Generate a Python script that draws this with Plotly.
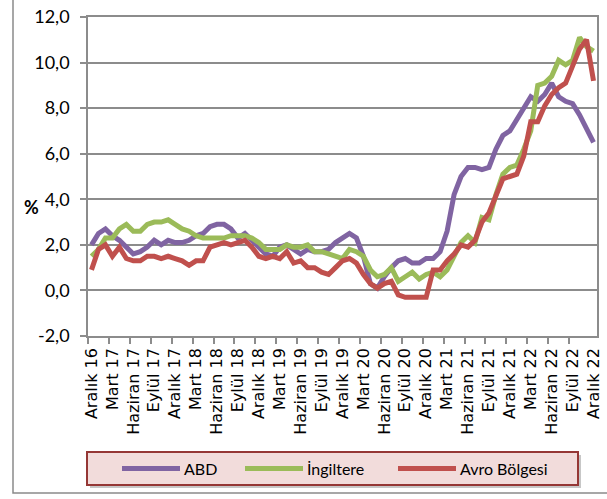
import plotly.graph_objects as go

# Monthly index Dec 2016 .. Dec 2022 (73 points)
tick_labels = ["Aralık 16", "Mart 17", "Haziran 17", "Eylül 17", "Aralık 17",
               "Mart 18", "Haziran 18", "Eylül 18", "Aralık 18",
               "Mart 19", "Haziran 19", "Eylül 19", "Aralık 19",
               "Mart 20", "Haziran 20", "Eylül 20", "Aralık 20",
               "Mart 21", "Haziran 21", "Eylül 21", "Aralık 21",
               "Mart 22", "Haziran 22", "Eylül 22", "Aralık 22"]

abd = [2.0,
       2.5, 2.7, 2.4, 2.2, 1.9, 1.6, 1.7, 1.9, 2.2, 2.0, 2.2, 2.1,
       2.1, 2.2, 2.4, 2.5, 2.8, 2.9, 2.9, 2.7, 2.3, 2.5, 2.2, 1.9,
       1.6, 1.5, 1.9, 2.0, 1.8, 1.6, 1.8, 1.7, 1.7, 1.8, 2.1, 2.3,
       2.5, 2.3, 1.5, 0.3, 0.1, 0.6, 1.0, 1.3, 1.4, 1.2, 1.2, 1.4,
       1.4, 1.7, 2.6, 4.2, 5.0, 5.4, 5.4, 5.3, 5.4, 6.2, 6.8, 7.0,
       7.5, 7.9, 8.5, 8.3, 8.6, 9.1, 8.5, 8.3, 8.2, 7.7, 7.1, 6.5]

ingiltere = [1.5,
             1.8, 2.3, 2.3, 2.7, 2.9, 2.6, 2.6, 2.9, 3.0, 3.0, 3.1, 2.9,
             2.7, 2.6, 2.4, 2.3, 2.3, 2.3, 2.3, 2.4, 2.4, 2.4, 2.3, 2.1,
             1.8, 1.8, 1.8, 2.0, 1.9, 1.9, 2.0, 1.7, 1.7, 1.6, 1.5, 1.4,
             1.8, 1.7, 1.5, 0.9, 0.6, 0.7, 1.0, 0.4, 0.6, 0.8, 0.5, 0.7,
             0.8, 0.6, 0.9, 1.5, 2.1, 2.4, 2.1, 3.2, 3.1, 4.2, 5.1, 5.4,
             5.5, 6.2, 7.0, 9.0, 9.1, 9.4, 10.1, 9.9, 10.1, 11.1, 10.7, 10.5]

avro = [0.9,
        1.8, 2.0, 1.5, 1.9, 1.4, 1.3, 1.3, 1.5, 1.5, 1.4, 1.5, 1.4,
        1.3, 1.1, 1.3, 1.3, 1.9, 2.0, 2.1, 2.0, 2.1, 2.2, 1.9, 1.5,
        1.4, 1.5, 1.4, 1.7, 1.2, 1.3, 1.0, 1.0, 0.8, 0.7, 1.0, 1.3,
        1.4, 1.2, 0.7, 0.3, 0.1, 0.3, 0.4, -0.2, -0.3, -0.3, -0.3, -0.3,
        0.9, 0.9, 1.3, 1.6, 2.0, 1.9, 2.2, 3.0, 3.4, 4.1, 4.9, 5.0,
        5.1, 5.9, 7.4, 7.4, 8.1, 8.6, 8.9, 9.1, 9.9, 10.6, 11.0, 9.2]

series_names = ["ABD", "İngiltere", "Avro Bölgesi"]
series_colors = ["#8064A2", "#9BBB59", "#C0504D"]
y_ticks = [-2, 0, 2, 4, 6, 8, 10, 12]
y_tick_text = ["-2,0", "0,0", "2,0", "4,0", "6,0", "8,0", "10,0", "12,0"]

x = list(range(len(abd)))
tick_pos = x[::3]
minor_pos = [p - 0.5 for p in tick_pos[:-1]]

W, H = 607, 499
L, R, T, B = 88, 10, 17, 163
PW, PH = W - L - R, H - T - B


def px(xp):
    return (xp - L) / PW


def py(yp):
    return (H - B - yp) / PH


fig = go.Figure()
for name, vals, col in zip(series_names, [abd, ingiltere, avro], series_colors):
    fig.add_trace(go.Scatter(x=x, y=vals, mode="lines", name=name,
                             line=dict(color=col, width=5),
                             showlegend=False, hoverinfo="skip"))

grid = "#8c8c8c"
fig.update_layout(
    width=W, height=H,
    margin=dict(l=L, r=R, t=T, b=B, autoexpand=False),
    paper_bgcolor="white", plot_bgcolor="white",
    showlegend=False,
    xaxis=dict(range=[-0.5, 72.5], tickmode="array", tickvals=tick_pos,
               ticktext=tick_labels, tickangle=-90, ticks="",
               showgrid=False, zeroline=False, automargin=False,
               showline=True, linecolor=grid, linewidth=1.5, mirror=True,
               ticklabelstandoff=4,
               tickfont=dict(family="DejaVu Sans", size=16, color="black"),
               minor=dict(tickmode="array", tickvals=minor_pos,
                          ticks="outside", ticklen=6, tickcolor=grid,
                          tickwidth=1.5, showgrid=False)),
    yaxis=dict(range=[-2, 12], tickmode="array", tickvals=y_ticks,
               ticktext=y_tick_text, showgrid=True, gridcolor=grid, gridwidth=1.5,
               zeroline=False, showline=True, linecolor=grid, linewidth=1.5,
               mirror=True, ticks="outside", ticklen=6, tickcolor=grid,
               tickwidth=1.5, ticklabelstandoff=7, automargin=False,
               tickfont=dict(family="Lato", size=18, color="black")),
)

shapes = []
# outer frame
shapes.append(dict(type="rect", xref="paper", yref="paper",
                   x0=px(13), x1=px(640), y0=py(493), y1=py(-20),
                   line=dict(color="#8a8a8a", width=1.5), fillcolor="rgba(0,0,0,0)",
                   layer="below"))
# legend shadow + box
shapes.append(dict(type="rect", xref="paper", yref="paper",
                   x0=px(90), x1=px(581), y0=py(488), y1=py(455),
                   line=dict(width=0), fillcolor="rgba(0,0,0,0.22)"))
shapes.append(dict(type="rect", xref="paper", yref="paper",
                   x0=px(87), x1=px(578), y0=py(485), y1=py(452),
                   line=dict(color="#953735", width=2), fillcolor="#f2dcdb"))
leg_x = [122, 245, 398]
leg_len = 58
for lx, col in zip(leg_x, series_colors):
    shapes.append(dict(type="line", xref="paper", yref="paper",
                       x0=px(lx), x1=px(lx + leg_len), y0=py(468.5), y1=py(468.5),
                       line=dict(color=col, width=5)))
fig.update_layout(shapes=shapes)

annotations = [dict(xref="paper", yref="paper", x=px(lx + leg_len + 2), y=py(468.5),
                    text=name, showarrow=False, xanchor="left", yanchor="middle",
                    font=dict(family="Lato", size=16, color="black"))
               for lx, name in zip(leg_x, series_names)]
annotations.append(dict(xref="paper", yref="paper", x=px(31), y=py(207),
                        text="<b>%</b>", showarrow=False, xanchor="center",
                        yanchor="middle",
                        font=dict(family="Lato", size=18, color="black")))
fig.update_layout(annotations=annotations)

fig.write_html("out.html", config={"displayModeBar": False},
               post_script="document.body.style.margin='0';document.body.style.overflow='hidden';")
